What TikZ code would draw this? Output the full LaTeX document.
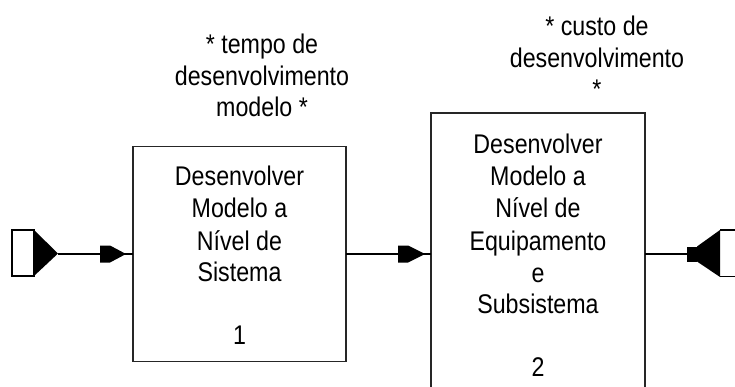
\documentclass[tikz,border=0pt]{standalone}
\usepackage{fontspec}
\setmainfont{Liberation Sans}[FakeStretch=0.86]
\usetikzlibrary{calc}
\begin{document}
\begin{tikzpicture}[x=1pt,y=-1pt,
  txt/.style={inner sep=0pt,anchor=base,font=\fontsize{27}{32}\selectfont},
  box/.style={draw=black!85,line width=1.8pt,inner sep=0pt,outer sep=0pt},
  conn/.style={line width=1.3pt,draw=black},
  tipfill/.style={fill=black}]
\useasboundingbox (0,0) rectangle (735,387);
\clip (0,0) rectangle (735,387);

% boxes
\node[box,minimum width=213pt,minimum height=215pt] (b1) at (239.5,254) {};
\node[box,minimum width=214pt,minimum height=282pt] (b2) at (538,254) {};

% box texts
\foreach \t/\yy [count=\k] in {Desenvolver/186,Modelo a/218,Nível de/250,Sistema/281,1/344}
  \node[txt] (b1t\k) at (239.5,\yy) {\t};
\foreach \t/\yy [count=\k] in {Desenvolver/154,Modelo a/186,Nível de/218,Equipamento/250,e/282,Subsistema/313,2/376}
  \node[txt] (b2t\k) at (538,\yy) {\t};

% labels
\foreach \t/\yy [count=\k] in {* tempo de/54,desenvolvimento/86,modelo */117}
  \node[txt] (l1t\k) at (262,\yy) {\t};
\foreach \t/\yy [count=\k] in {* custo de/36,desenvolvimento/68,*/99}
  \node[txt] (l2t\k) at (597,\yy) {\t};

% input terminator
\node[draw=black,line width=1.3pt,fill=white,minimum width=22pt,minimum height=46pt,inner sep=0pt,outer sep=0pt] (inbox) at (23,253) {};
\fill[tipfill] (inbox.north east) -- (58,253.5) -- (inbox.south east) -- cycle;
\coordinate (inT) at (58,254);

% connectors
\draw[conn] (inT) -- (b1.west);
\draw[conn] (b1.east) -- (b2.west);
\coordinate (outS) at (687,254);
\draw[conn] (b2.east) -- (outS);

% arrow tips
\fill[tipfill,shift={(b1.west)}] (-33,-8.5) -- (-23,-8.5) -- (-7,0) -- (-23,8.5) -- (-33,8.5) -- cycle;
\fill[tipfill,shift={(b2.west)}] (-33,-8.5) -- (-23,-8.5) -- (-6,0) -- (-23,8.5) -- (-33,8.5) -- cycle;

% output terminator
\fill[tipfill] (687,246.5) rectangle (697,261.5);
\fill[tipfill] (697,246.5) -- (720,230) -- (720,277) -- (697,261.5) -- cycle;
\coordinate (outA) at (720,230);
\coordinate (outB) at (720,276.5);
\draw[conn] (outA) -- ++(30,0);
\draw[conn] (outB) -- ++(30,0);
\end{tikzpicture}
\end{document}
